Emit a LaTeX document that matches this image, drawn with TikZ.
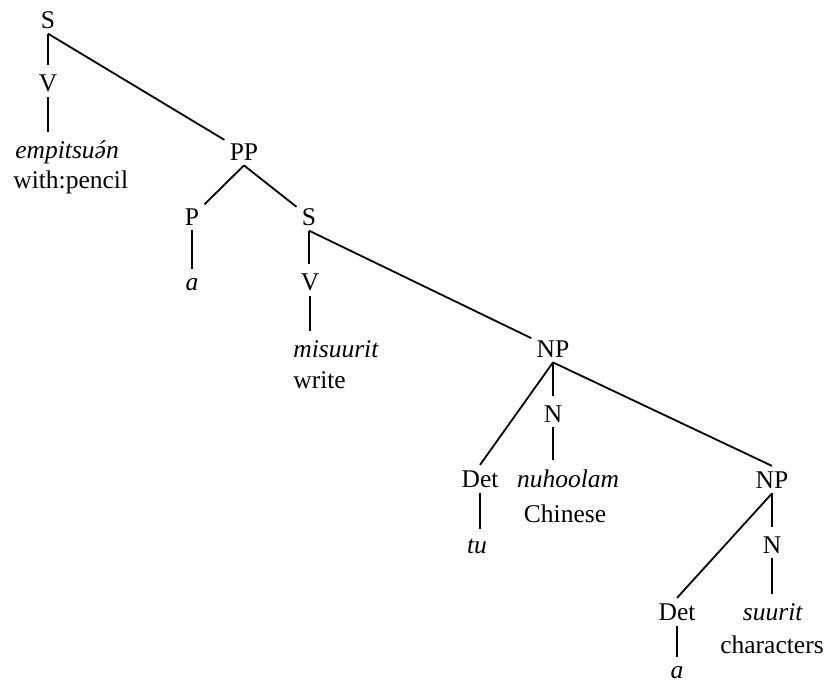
\documentclass[tikz,border=0pt]{standalone}
\usepackage{fontspec}
\setmainfont{Liberation Serif}

\newcommand{\schwaacute}{\ooalign{ə\cr\hidewidth\kern0.08em\char"00B4\hidewidth\cr}}

\tikzstyle{treelabel} = [font=\fontsize{12.75}{15}\selectfont,inner sep=2.5pt]
\tikzstyle{branch} = [draw,line width=0.9pt,-]
\tikzstyle{stem} = [draw,line width=0.9pt,-,shorten >=2pt]

\begin{document}
\begin{tikzpicture}[x=0.5pt,y=-0.5pt]
      \useasboundingbox (0,0) rectangle (831,692);
      % nodes
      \foreach \nodename/\x/\y/\anch/\txt in {
        s1/48/28/base/S,
        v1/48/91/base/V,
        empitsuan/10/158/base west/\textit{empitsu\schwaacute n},
        withpencil/8/188/base west/with:pencil,
        pp/244/160/base/PP,
        p/192/225/base/P,
        a1/192/290/base/\textit{a},
        s2/309/225/base/S,
        v2/310/290/base/V,
        misuurit/288/357/base west/\textit{misuurit},
        write/288/388/base west/write,
        np1/553/357/base/NP,
        n1/553/422/base/N,
        det1/480/487/base/Det,
        tu/477/553/base/\textit{tu},
        nuhoolam/568/487/base/\textit{nuhoolam},
        chinese/565/522/base/Chinese,
        np2/772/488/base/NP,
        n2/772/553/base/N,
        det2/677/620/base/Det,
        a2/677/678/base/\textit{a},
        suurit/773/620/base/\textit{suurit},
        characters/772/653/base/characters}
      {
        \node[treelabel, anchor=\anch] (\nodename) at (\x,\y) {\txt};
      };
      %edges
      \path
      \foreach \startnode/\endnode in {
        s1/v1, v1/empitsuan, p/a1, s2/v2, v2/misuurit, np1/n1,
        n1/nuhoolam, det1/tu, np2/n2, n2/suurit, det2/a2}
      {
        (\startnode.south) edge[stem] (\startnode.south |- \endnode.north)
      };
      \path
      \foreach \startnode/\endnode in {
        s1/pp, pp/p, pp/s2, s2/np1, np1/det1.north, np1/np2.north, np2/det2.north}
      {
        (\startnode.south) edge[branch] (\endnode)
      };
    \end{tikzpicture}
\end{document}
